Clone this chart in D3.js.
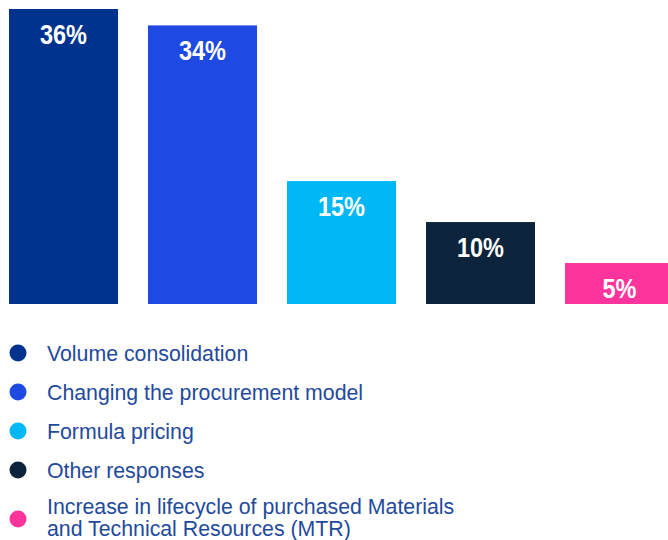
<!DOCTYPE html>
<html>
<head>
<meta charset="utf-8">
<script src="https://cdn.jsdelivr.net/npm/d3@7"></script>
<style>
  html, body { margin: 0; padding: 0; background: #fff; }
  svg { display: block; }
</style>
</head>
<body>
<svg id="chart" width="668" height="540"></svg>
<script>
// Survey responses: share of respondents per measure
const categories = [
  "Volume consolidation",
  "Changing the procurement model",
  "Formula pricing",
  "Other responses",
  "Increase in lifecycle of purchased Materials\nand Technical Resources (MTR)"
];
const values = [36, 34, 15, 10, 5];
const colors = ["#00338D", "#1E49E2", "#00B8F5", "#0C233C", "#FD349C"];

const svg = d3.select("#chart");

const baseline = 304;
const x = d3.scaleBand()
  .domain(categories)
  .range([9, 9 + 5 * 139 - 30])
  .paddingInner(30 / 139)
  .paddingOuter(0);

const y = d3.scaleLinear()
  .domain([0, 36])
  .range([baseline, baseline - 295]);

const data = categories.map((c, i) => ({ c, v: values[i], color: colors[i] }));

// Bars
svg.append("g")
  .selectAll("rect")
  .data(data)
  .join("rect")
  .attr("x", d => x(d.c))
  .attr("y", d => y(d.v))
  .attr("width", x.bandwidth())
  .attr("height", d => baseline - y(d.v))
  .attr("fill", d => d.color);

// Value labels inside the bars (narrowed bold sans)
svg.append("g")
  .selectAll("text")
  .data(data)
  .join("text")
  .attr("transform", d => `translate(${x(d.c) + x.bandwidth() / 2},${y(d.v) + 35}) scale(0.87,1)`)
  .attr("text-anchor", "middle")
  .attr("fill", "#fff")
  .attr("font-family", "'Liberation Sans', Arial, sans-serif")
  .attr("font-weight", "bold")
  .attr("font-size", 27)
  .text(d => d.v + "%");

// Legend
const legendY = [353, 392, 431, 470, 519];
const legend = svg.append("g")
  .selectAll("g")
  .data(data)
  .join("g")
  .attr("transform", (d, i) => `translate(0,${legendY[i]})`);

legend.append("circle")
  .attr("cx", 18)
  .attr("cy", 0)
  .attr("r", 8.5)
  .attr("fill", d => d.color);

legend.append("text")
  .attr("x", 47)
  .attr("fill", "#1f4a9c")
  .attr("font-family", "'Liberation Sans', Arial, sans-serif")
  .attr("font-size", 21.3)
  .each(function (d) {
    const lines = d.c.split("\n");
    const t = d3.select(this);
    const lh = 21.5;
    const start = lines.length > 1 ? -4.75 : 8;
    lines.forEach((ln, j) => {
      t.append("tspan")
        .attr("x", 47)
        .attr("y", start + j * lh)
        .text(ln);
    });
  });
</script>
</body>
</html>
